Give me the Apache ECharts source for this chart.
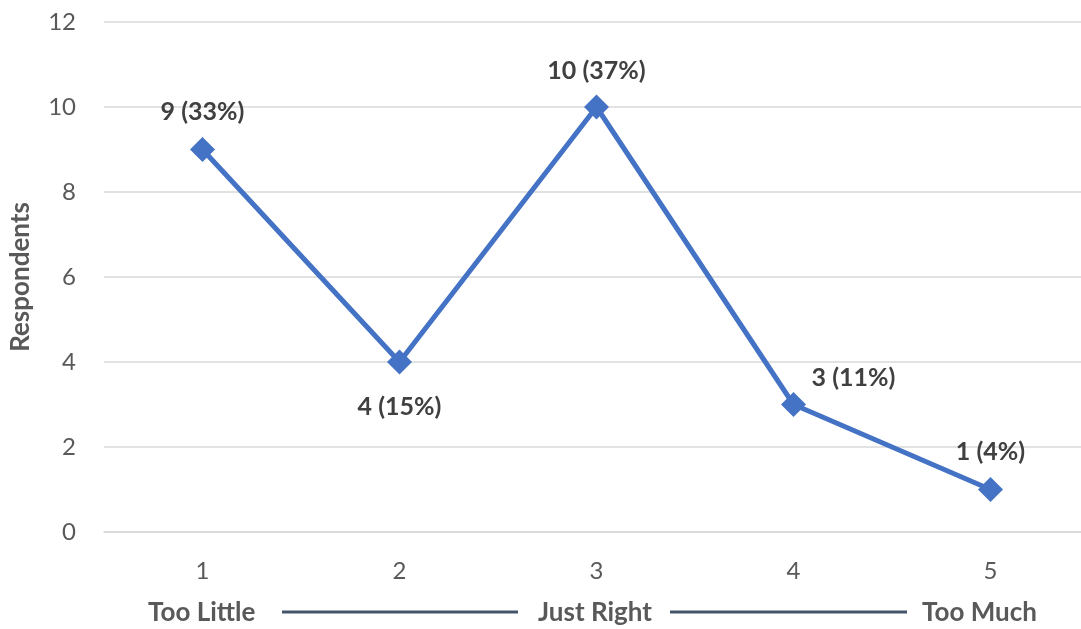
<!DOCTYPE html>
<html>
<head>
<meta charset="utf-8">
<script src="https://cdn.jsdelivr.net/npm/echarts@6/dist/echarts.min.js"></script>
<style>
  html, body { margin: 0; padding: 0; background: #fff; overflow: hidden; }
  /* the plot runs a little past the right edge of the window, so the canvas is wider than the view */
  #chart { width: 1100px; height: 629px; }
</style>
</head>
<body>
<div id="chart"></div>
<script>
// Rating scale 1–5 and number of respondents at each point
const categories = ['1', '2', '3', '4', '5'];
const respondents = [9, 4, 10, 3, 1];
const shares = ['33%', '15%', '37%', '11%', '4%'];
const yTicks = { min: 0, max: 12, interval: 2 };

const FONT = 'Lato, "Open Sans", sans-serif';
const BLUE = '#4472C4';

// where each value label sits relative to its marker
const labelPlacement = [
  { position: 'top', offset: [0, -8] },
  { position: 'bottom', offset: [0, 15] },
  { position: 'top', offset: [0, -6] },
  { position: 'top', offset: [60, 3] },
  { position: 'top', offset: [0, -8] }
];

const seriesData = respondents.map((v, i) => ({
  value: v,
  label: Object.assign({}, labelPlacement[i], {
    formatter: v + ' (' + shares[i] + ')'
  })
}));

const chart = echarts.init(document.getElementById('chart'), null, { renderer: 'canvas' });

const scaleText = { font: 'bold 26px ' + FONT, fill: '#595959', verticalAlign: 'middle' };
const scaleLine = { stroke: '#44546A', lineWidth: 3 };

chart.setOption({
  animation: false,
  grid: { left: 101, right: 11, top: 22, bottom: 97, containLabel: false },
  xAxis: {
    type: 'category',
    data: categories,
    boundaryGap: true,
    axisLine: { lineStyle: { color: '#D9D9D9', width: 1.5 } },
    axisTick: { show: false },
    axisLabel: { color: '#595959', fontSize: 24, fontFamily: FONT, margin: 27 }
  },
  yAxis: {
    type: 'value',
    min: yTicks.min,
    max: yTicks.max,
    interval: yTicks.interval,
    name: 'Respondents',
    nameLocation: 'middle',
    nameGap: 70,
    nameTextStyle: { color: '#595959', fontSize: 26, fontWeight: 'bold', fontFamily: FONT },
    axisLine: { show: false },
    axisTick: { show: false },
    axisLabel: { color: '#595959', fontSize: 24, fontFamily: FONT, margin: 28 },
    splitLine: { lineStyle: { color: '#D9D9D9', width: 1.5 } }
  },
  series: [{
    type: 'line',
    data: seriesData,
    symbol: 'diamond',
    symbolSize: 25,
    lineStyle: { color: BLUE, width: 5 },
    itemStyle: { color: BLUE },
    label: {
      show: true,
      color: '#404040',
      fontSize: 25,
      fontWeight: 'bold',
      fontFamily: FONT
    }
  }],
  graphic: [
    { type: 'text', x: 148, y: 613, style: Object.assign({ text: 'Too Little' }, scaleText) },
    { type: 'line', shape: { x1: 282, y1: 612, x2: 518, y2: 612 }, style: scaleLine },
    { type: 'text', x: 538, y: 613, style: Object.assign({ text: 'Just Right' }, scaleText) },
    { type: 'line', shape: { x1: 670, y1: 612, x2: 907, y2: 612 }, style: scaleLine },
    { type: 'text', x: 922, y: 613, style: Object.assign({ text: 'Too Much' }, scaleText) }
  ]
});
</script>
</body>
</html>
